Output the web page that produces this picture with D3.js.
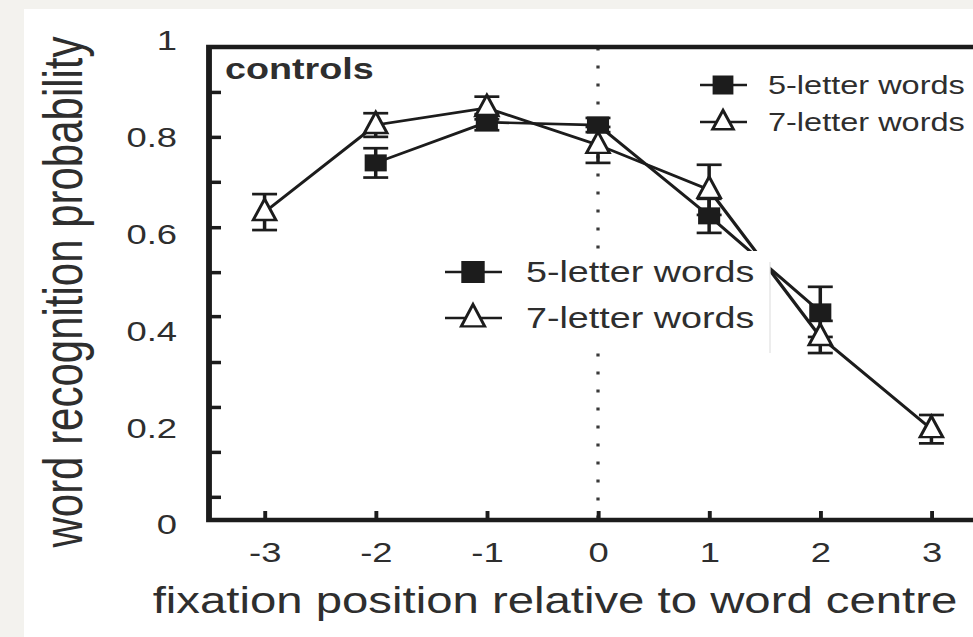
<!DOCTYPE html>
<html>
<head>
    <meta charset="utf-8">
    <title>word recognition probability</title>
    <style>
        body { margin: 0; background: #f3f2ee; }
        svg { display: block; font-family: "Liberation Sans", Arial, sans-serif; }
    </style>
</head>
<body>
<main></main>
<script src="https://cdn.jsdelivr.net/npm/d3@7"></script>
<script>
    // data
    var positions5 = [-2, -1, 0, 1, 2];
    var recog5 = [0.755, 0.841, 0.835, 0.643, 0.44];
    var err5 = [0.031, 0.017, 0.015, 0.036, 0.053];

    var positions7 = [-3, -2, -1, 0, 1, 2, 3];
    var recog7 = [0.651, 0.835, 0.871, 0.793, 0.698, 0.387, 0.192];
    var err7 = [0.038, 0.025, 0.024, 0.038, 0.053, 0.034, 0.03];

    var seriesNames = ["5-letter words", "7-letter words"];
    var xTicks = [-3, -2, -1, 0, 1, 2, 3];
    var yTickLabels = [0, 0.2, 0.4, 0.6, 0.8, 1];
    // small ticks on the left axis (their spacing in the figure is not 0.1)
    var yMinorTicks = [0.049, 0.144, 0.239, 0.334, 0.431, 0.524, 0.619, 0.715, 0.81, 0.905];

    var W = 973, H = 637;
    var SX = 1.3; // the figure is stretched horizontally
    var ink = "#1c1c1c";
    var textCol = "#2e2e2e";

    var svg = d3.select("main").append("svg")
        .attr("width", W)
        .attr("height", H);

    svg.append("rect").attr("width", W).attr("height", H).attr("fill", "#f3f2ee");
    svg.append("rect").attr("x", 24).attr("y", 9)
        .attr("width", W - 24).attr("height", H - 9).attr("fill", "#fff");

    var g = svg.append("g").attr("transform", "scale(" + SX + ",1)");

    var x = d3.scaleLinear().domain([-3.5, 3.5]).range([209 / SX, 987 / SX]);
    var y = d3.scaleLinear().domain([0, 1]).range([520, 47]);
    var yLab = d3.scaleLinear().domain([0, 1]).range([525, 41]);

    // dotted line at word centre
    g.append("line")
        .attr("x1", x(0)).attr("x2", x(0))
        .attr("y1", y(1) + 0.5).attr("y2", y(0))
        .attr("stroke", "#3a3a3a")
        .attr("stroke-width", 2.5)
        .attr("stroke-dasharray", "3,15");

    // left ticks
    var yAxis = g.append("g")
        .attr("transform", "translate(" + x(-3.5) + ",0)")
        .call(d3.axisRight(y).tickValues(yMinorTicks).tickSize(12 / SX).tickFormat(""));
    yAxis.select(".domain").remove();
    yAxis.selectAll("line").attr("stroke", ink).attr("stroke-width", 3.5);

    // bottom ticks
    var xAxis = g.append("g")
        .attr("transform", "translate(0," + y(0) + ")")
        .call(d3.axisTop(x).tickValues(xTicks).tickSize(9).tickFormat(""));
    xAxis.select(".domain").remove();
    xAxis.selectAll("line").attr("stroke", ink).attr("stroke-width", 3);

    // frame
    g.append("rect")
        .attr("x", x(-3.5)).attr("y", y(1))
        .attr("width", x(3.5) - x(-3.5)).attr("height", y(0) - y(1))
        .attr("fill", "none")
        .attr("stroke", ink)
        .attr("stroke-width", 4.5);

    // tick labels
    var xLab = g.append("g")
        .attr("transform", "translate(0," + y(0) + ")")
        .call(d3.axisBottom(x).tickValues(xTicks).tickSize(0).tickPadding(22)
            .tickFormat(function (d) { return String(d); }));
    xLab.select(".domain").remove();
    xLab.selectAll("text").attr("font-size", 28).attr("fill", textCol)
        .attr("font-family", "Liberation Sans, Arial, sans-serif");

    var yLabAxis = g.append("g")
        .attr("transform", "translate(" + (177 / SX) + ",0)")
        .call(d3.axisLeft(yLab).tickValues(yTickLabels).tickSize(0).tickPadding(0)
            .tickFormat(function (d) { return String(d); }));
    yLabAxis.select(".domain").remove();
    yLabAxis.selectAll("text").attr("font-size", 28).attr("fill", textCol)
        .attr("font-family", "Liberation Sans, Arial, sans-serif");

    // axis titles
    g.append("text")
        .attr("x", 555 / SX).attr("y", 613)
        .attr("text-anchor", "middle")
        .attr("font-size", 36.4)
        .attr("fill", textCol)
        .text("fixation position relative to word centre");

    g.append("text")
        .attr("transform", "translate(" + (82 / SX) + ",292) rotate(-90)")
        .attr("text-anchor", "middle")
        .attr("font-size", 42)
        .attr("fill", textCol)
        .text("word recognition probability");

    g.append("text")
        .attr("x", 225 / SX).attr("y", 79)
        .attr("font-size", 29)
        .attr("font-weight", "bold")
        .attr("fill", textCol)
        .text("controls");

    // markers
    function marker(sel, type, cx, cy, w, h) {
        if (type === 0) {
            sel.append("rect")
                .attr("x", cx - w / 2).attr("y", cy - h / 2)
                .attr("width", w).attr("height", h)
                .attr("fill", ink);
        } else {
            sel.append("path")
                .attr("d", "M" + cx + "," + (cy - h * 0.62) +
                    "L" + (cx + w / 2) + "," + (cy + h * 0.38) +
                    "L" + (cx - w / 2) + "," + (cy + h * 0.38) + "Z")
                .attr("fill", "#fff")
                .attr("stroke", ink)
                .attr("stroke-width", 2.4)
                .attr("stroke-linejoin", "miter");
        }
    }

    var series = [
        { type: 1, xs: positions7, ys: recog7, es: err7 },
        { type: 0, xs: positions5, ys: recog5, es: err5 }
    ];

    var line = d3.line()
        .x(function (d) { return x(d[0]); })
        .y(function (d) { return y(d[1]); });

    series.forEach(function (s) {
        var pts = s.xs.map(function (v, i) { return [v, s.ys[i]]; });
        g.append("path")
            .datum(pts)
            .attr("d", line)
            .attr("fill", "none")
            .attr("stroke", ink)
            .attr("stroke-width", 2.7);
    });

    var capW = 9.6;
    series.forEach(function (s) {
        var eg = g.append("g").attr("stroke", ink).attr("stroke-width", 2.7);
        s.xs.forEach(function (v, i) {
            var cx = x(v), lo = y(s.ys[i] - s.es[i]), hi = y(s.ys[i] + s.es[i]);
            eg.append("line").attr("x1", cx).attr("x2", cx).attr("y1", lo).attr("y2", hi);
            eg.append("line").attr("x1", cx - capW).attr("x2", cx + capW).attr("y1", lo).attr("y2", lo);
            eg.append("line").attr("x1", cx - capW).attr("x2", cx + capW).attr("y1", hi).attr("y2", hi);
        });
    });

    series.forEach(function (s) {
        var mg = g.append("g");
        s.xs.forEach(function (v, i) {
            if (s.type === 0) marker(mg, 0, x(v), y(s.ys[i]), 17, 17);
            else marker(mg, 1, x(v), y(s.ys[i]), 17.5, 21);
        });
    });

    // legends
    function legend(x0, x1, xm, xt, rows, fs, mw, mh) {
        var lg = g.append("g");
        seriesNames.forEach(function (name, i) {
            var cy = rows[i];
            lg.append("line")
                .attr("x1", x0 / SX).attr("x2", x1 / SX)
                .attr("y1", cy).attr("y2", cy)
                .attr("stroke", ink).attr("stroke-width", 2.6);
            marker(lg, i, xm / SX, cy, mw, mh);
            lg.append("text")
                .attr("x", xt / SX).attr("y", cy)
                .attr("dy", "0.36em")
                .attr("font-size", fs)
                .attr("fill", textCol)
                .text(name);
        });
    }

    legend(700, 747, 723, 768, [85, 122], 25, 16, 19);

    // pasted box with the bigger legend
    g.append("rect")
        .attr("x", 425 / SX).attr("y", 251)
        .attr("width", 345 / SX).attr("height", 102)
        .attr("fill", "#fff");
    g.append("line")
        .attr("x1", 770 / SX).attr("x2", 770 / SX)
        .attr("y1", 262).attr("y2", 353)
        .attr("stroke", "#e4e4e4").attr("stroke-width", 1);

    legend(445, 502, 473, 526, [272, 318], 29, 18, 22);
</script>
</body>
</html>
